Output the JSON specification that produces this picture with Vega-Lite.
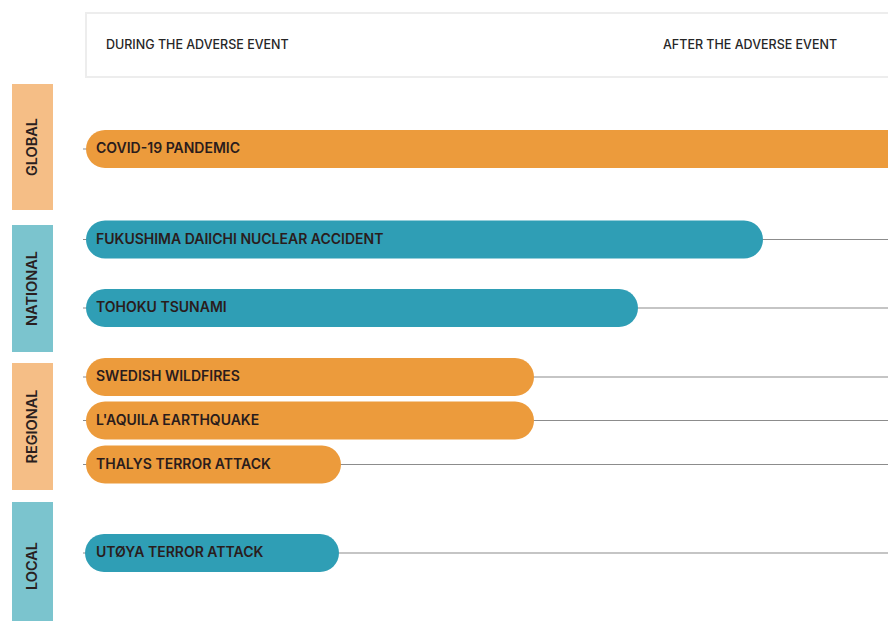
{
  "$schema": "https://vega.github.io/schema/vega-lite/v6.json",
  "width": 888,
  "height": 621,
  "padding": 0,
  "autosize": {"type": "none"},
  "background": "#ffffff",
  "config": {"view": {"stroke": null}, "scale": {"continuousPadding": 0}},
  "datasets": {
    "header": [{"left": 86, "right": 920, "top": 13, "bottom": 77}],
    "headerText": [
      {"label": "DURING THE ADVERSE EVENT", "x": 106, "y": 45},
      {"label": "AFTER THE ADVERSE EVENT", "x": 663, "y": 45}
    ],
    "scopes": [
      {"scope": "GLOBAL", "left": 12, "right": 53, "top": 84, "bottom": 210, "mid": 147},
      {"scope": "NATIONAL", "left": 12, "right": 53, "top": 225, "bottom": 352, "mid": 288.5},
      {"scope": "REGIONAL", "left": 12, "right": 53, "top": 363, "bottom": 490, "mid": 426.5},
      {"scope": "LOCAL", "left": 12, "right": 53, "top": 502, "bottom": 640, "mid": 566}
    ],
    "events": [
      {"event": "COVID-19 PANDEMIC", "scope": "GLOBAL", "start": 86, "end": 930, "row": 149},
      {"event": "FUKUSHIMA DAIICHI NUCLEAR ACCIDENT", "scope": "NATIONAL", "start": 86, "end": 763, "row": 239.5},
      {"event": "TOHOKU TSUNAMI", "scope": "NATIONAL", "start": 86, "end": 638, "row": 308},
      {"event": "SWEDISH WILDFIRES", "scope": "REGIONAL", "start": 86, "end": 534, "row": 377},
      {"event": "L'AQUILA EARTHQUAKE", "scope": "REGIONAL", "start": 86, "end": 534, "row": 420.5},
      {"event": "THALYS TERROR ATTACK", "scope": "REGIONAL", "start": 86, "end": 341, "row": 464.5},
      {"event": "UTØYA TERROR ATTACK", "scope": "LOCAL", "start": 85, "end": 339, "row": 553}
    ]
  },
  "layer": [
    {
      "data": {"name": "header"},
      "mark": {"type": "rect", "fill": "#ffffff", "stroke": "#ededed", "strokeWidth": 2, "clip": true},
      "encoding": {
        "x": {"field": "left", "type": "quantitative", "scale": {"domain": [0, 888], "padding": 0, "nice": false, "zero": false}, "axis": null},
        "x2": {"field": "right"},
        "y": {"field": "top", "type": "quantitative", "scale": {"domain": [0, 621], "reverse": true, "padding": 0, "nice": false, "zero": false}, "axis": null},
        "y2": {"field": "bottom"}
      }
    },
    {
      "data": {"name": "headerText"},
      "mark": {"type": "text", "align": "left", "baseline": "middle", "font": "Inter", "fontSize": 12.5, "fontWeight": 500, "color": "#262626"},
      "encoding": {
        "x": {"field": "x", "type": "quantitative"},
        "y": {"field": "y", "type": "quantitative"},
        "text": {"field": "label"}
      }
    },
    {
      "data": {"name": "scopes"},
      "mark": {"type": "rect", "clip": true},
      "encoding": {
        "x": {"field": "left", "type": "quantitative"},
        "x2": {"field": "right"},
        "y": {"field": "top", "type": "quantitative"},
        "y2": {"field": "bottom"},
        "fill": {"field": "scope", "type": "nominal", "legend": null,
          "scale": {"domain": ["GLOBAL", "NATIONAL", "REGIONAL", "LOCAL"], "range": ["#F5BE86", "#7BC4CE", "#F5BE86", "#7BC4CE"]}}
      }
    },
    {
      "data": {"name": "scopes"},
      "mark": {"type": "text", "angle": 270, "align": "center", "baseline": "middle", "font": "Inter", "fontSize": 14.5, "fontWeight": 600, "letterSpacing": 0.4, "color": "#2a1f1f"},
      "encoding": {
        "x": {"datum": 33, "type": "quantitative"},
        "y": {"field": "mid", "type": "quantitative"},
        "text": {"field": "scope"}
      }
    },
    {
      "data": {"name": "events"},
      "mark": {"type": "rule", "color": "#8c8c8c", "strokeWidth": 1.2},
      "encoding": {
        "x": {"datum": 83, "type": "quantitative"},
        "x2": {"datum": 888},
        "y": {"field": "row", "type": "quantitative"}
      }
    },
    {
      "data": {"name": "events"},
      "mark": {"type": "bar", "cornerRadius": 19, "clip": true},
      "encoding": {
        "x": {"field": "start", "type": "quantitative"},
        "x2": {"field": "end"},
        "y": {"field": "row", "type": "quantitative"},
        "size": {"value": 38},
        "color": {"field": "scope", "type": "nominal", "legend": null,
          "scale": {"domain": ["GLOBAL", "NATIONAL", "REGIONAL", "LOCAL"], "range": ["#EC9B3C", "#2F9EB5", "#EC9B3C", "#2F9EB5"]}}
      }
    },
    {
      "data": {"name": "events"},
      "mark": {"type": "text", "align": "left", "baseline": "middle", "font": "Inter", "fontSize": 14, "fontWeight": 600, "color": "#2a1c1c"},
      "encoding": {
        "x": {"datum": 96, "type": "quantitative"},
        "y": {"field": "row", "type": "quantitative"},
        "text": {"field": "event"}
      }
    }
  ]
}
